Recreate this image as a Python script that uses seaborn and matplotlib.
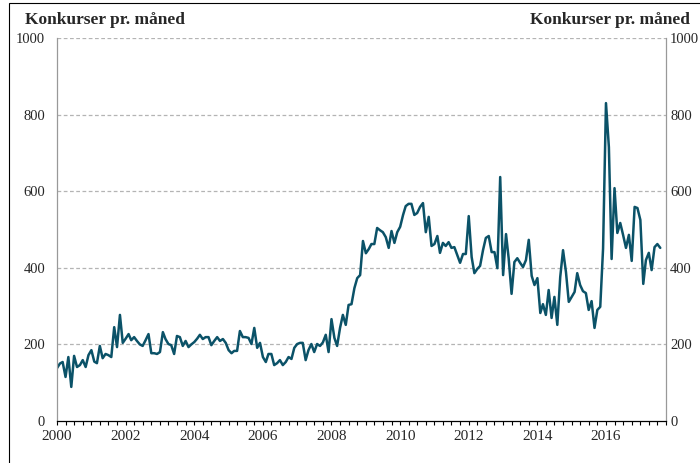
import numpy as np
import pandas as pd
import matplotlib
matplotlib.use("Agg")
import matplotlib.pyplot as plt
import matplotlib.dates as mdates
from matplotlib.patches import Rectangle
import seaborn as sns

start = "2000-01-01"
values = [
    138, 150, 154, 115, 167, 89, 170, 141, 146, 159, 141, 172,
    185, 155, 151, 196, 164, 175, 172, 167, 245, 193, 277, 204,
    215, 227, 211, 219, 209, 200, 196, 211, 227, 177, 177, 175,
    180, 232, 214, 201, 198, 175, 222, 219, 196, 209, 193, 200,
    206, 215, 225, 214, 219, 219, 198, 209, 219, 209, 214, 204,
    185, 177, 183, 183, 235, 219, 219, 217, 201, 243, 191, 204,
    167, 154, 175, 175, 146, 151, 159, 146, 154, 167, 162, 191,
    201, 204, 204, 159, 185, 201, 180, 201, 196, 205, 225, 180,
    266, 217, 196, 243, 277, 251, 303, 305, 347, 373, 381, 470,
    438, 449, 462, 462, 504, 498, 493, 480, 452, 496, 465, 493,
    507, 538, 561, 567, 567, 538, 543, 559, 569, 493, 533, 457,
    462, 483, 439, 465, 457, 467, 452, 454, 433, 413, 436, 436,
    535, 428, 386, 397, 405, 446, 478, 483, 441, 441, 399, 637,
    381, 488, 425, 332, 415, 425, 413, 402, 420, 473, 379, 355,
    373, 282, 305, 277, 342, 269, 324, 251, 376, 446, 389, 311,
    324, 337, 386, 355, 339, 334, 290, 313, 243, 290, 298, 450,
    830, 715, 423, 608, 491, 517, 486, 452, 486, 418, 559, 556,
    525, 358, 420, 439, 394, 454, 462, 452,
]
y_ticks = [0, 200, 400, 600, 800, 1000]
title = "Konkurser pr. måned"

df = pd.DataFrame({
    "dato": pd.date_range(start, periods=len(values), freq="MS"),
    "konkurser": values,
})

sns.set_theme(style="white")
plt.rcParams["font.family"] = ["Liberation Serif", "DejaVu Serif"]

fig = plt.figure(figsize=(7.0, 4.63), dpi=100)
ax = fig.add_axes([57/700, 1-421/463, (666-57)/700, (421-38)/463])

sns.lineplot(data=df, x="dato", y="konkurser", ax=ax, color="#0b5268", linewidth=1.8)

ax.set_ylim(0, 1000)
ax.set_xlim(pd.Timestamp("2000-01-01"), pd.Timestamp("2017-10-01"))
ax.set_yticks(y_ticks)
ax.set_yticklabels([str(t) for t in y_ticks], fontsize=10.5)
for t in y_ticks[1:]:
    ax.axhline(t, color="#b4b4b4", linestyle=(0, (3, 2)), linewidth=0.9, zorder=0)

ax.xaxis.set_major_locator(mdates.YearLocator(2))
ax.xaxis.set_major_formatter(mdates.DateFormatter("%Y"))
ax.xaxis.set_minor_locator(mdates.MonthLocator(bymonth=[1, 4, 7, 10]))
ax.tick_params(axis="x", which="both", direction="out", length=3, width=0.8,
               color="black", labelsize=11, pad=3.5, bottom=True)
ax.tick_params(axis="y", which="both", length=0, pad=8.5, left=False)
ax.set_xlabel("")
ax.set_ylabel("")

ax.spines["top"].set_visible(False)
ax.spines["left"].set_color("#999999")
ax.spines["right"].set_color("#999999")
ax.spines["bottom"].set_color("black")
for s in ax.spines.values():
    s.set_linewidth(0.9)

ax2 = ax.twinx()
ax2.set_ylim(0, 1000)
ax2.set_yticks(y_ticks)
ax2.set_yticklabels([str(t) for t in y_ticks], fontsize=10.5)
ax2.tick_params(axis="y", length=0, pad=3)
for s in ax2.spines.values():
    s.set_visible(False)
ax2.grid(False)

fig.text(25/700, 1-24/463, title, ha="left", va="baseline", fontsize=12.5, fontweight="bold")
fig.text(690/700, 1-24/463, title, ha="right", va="baseline", fontsize=12.5, fontweight="bold")

fig.patches.append(Rectangle((9/700, -0.01), 1.0, 1 - 3/463 + 0.01, transform=fig.transFigure,
                             fill=False, edgecolor="black", linewidth=0.8))

fig.savefig("out.png", dpi=100)
